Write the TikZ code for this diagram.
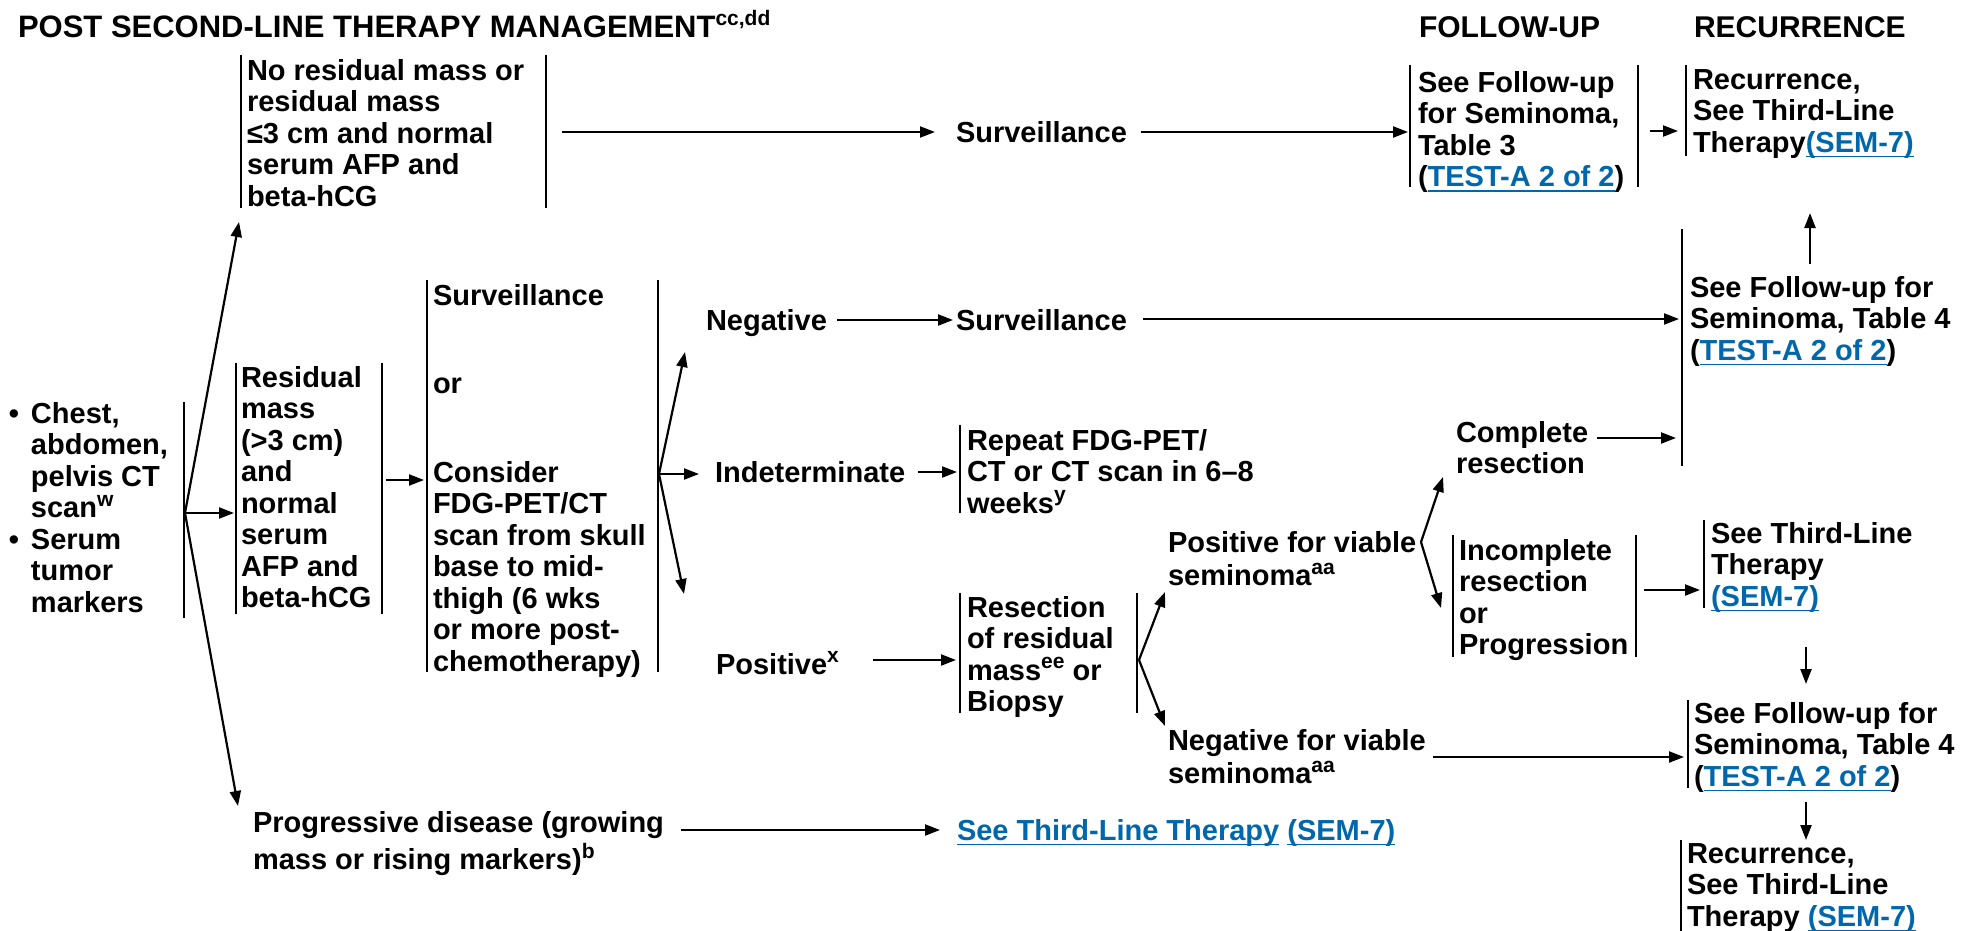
\documentclass[tikz,border=0pt]{standalone}
\usepackage{fontspec}
\setmainfont{Liberation Sans}
\usetikzlibrary{arrows.meta}
\definecolor{linkblue}{RGB}{0,103,172}
\newcommand\bodyfont{\fontsize{29}{31.5}\selectfont\bfseries}
\newcommand\headfont{\fontsize{30}{32}\selectfont\bfseries}
\newcommand\titlefont{\fontsize{31}{33}\selectfont\bfseries}
\newcommand\spx[1]{\raisebox{0.4em}{\fontsize{21}{21}\selectfont #1}}
\newcommand\lnk[1]{\textcolor{linkblue}{\setbox0\hbox{#1}\rlap{\rule[-5pt]{\wd0}{1.8pt}}\box0}}
\begin{document}
\begin{tikzpicture}[x=1pt,y=-1pt,
  tx/.style={inner sep=0pt,outer sep=0pt,align=left,anchor=north west,font=\bodyfont},
  hd/.style={inner sep=0pt,outer sep=0pt,anchor=base west,font=\headfont},
  bar/.style={line width=2.4pt},
  arr/.style={line width=2.2pt,-{Triangle[length=15pt,width=11pt]}}]
\useasboundingbox (0,0) rectangle (1961,931);

% headers
\node[hd,font=\titlefont] (title) at (18,38) {POST SECOND-LINE THERAPY MANAGEMENT\spx{cc,dd}};
\node[hd] (hfu) at (1419,38) {FOLLOW-UP};
\node[hd] (hrec) at (1694,38) {RECURRENCE};

% text blocks
\node[tx] (chest) at (9,401.4) {\strut\makebox[22pt][l]{•}Chest,\\\hspace*{22pt}abdomen,\\\hspace*{22pt}pelvis CT\\\hspace*{22pt}scan\spx{w}\\\makebox[22pt][l]{•}Serum\\\hspace*{22pt}tumor\\\hspace*{22pt}markers};
\node[tx] (nores) at (247,58.4) {\strut No residual mass or\\residual mass\\≤3 cm and normal\\serum AFP and\\beta-hCG};
\node[tx] (res) at (241,365.4) {\strut Residual\\mass\\(>3 cm)\\and\\normal\\serum\\AFP and\\beta-hCG};
\node[tx] (prog) at (253,810.4) {\strut Progressive disease (growing\\mass or rising markers)\spx{b}};
\node[tx] (survA) at (433,283.4) {\strut Surveillance};
\node[tx] (orA) at (433,371.4) {\strut or};
\node[tx] (consider) at (433,460.4) {\strut Consider\\FDG-PET/CT\\scan from skull\\base to mid-\\thigh (6 wks\\or more post-\\chemotherapy)};
\node[tx] (surv1) at (956,120.4) {\strut Surveillance};
\node[tx] (neg) at (706,308.4) {\strut Negative};
\node[tx] (surv2) at (956,308.4) {\strut Surveillance};
\node[tx] (indet) at (715,460.4) {\strut Indeterminate};
\node[tx] (repeat) at (967,428.4) {\strut Repeat FDG-PET/\\CT or CT scan in 6–8\\weeks\spx{y}};
\node[tx] (posx) at (716,651.4) {\strut Positive\spx{x}};
\node[tx] (resect) at (967,595.4) {\strut Resection\\of residual\\mass\spx{ee} or\\Biopsy};
\node[tx] (posv) at (1168,530.4) {\strut Positive for viable\\seminoma\spx{aa}};
\node[tx] (negv) at (1168,728.4) {\strut Negative for viable\\seminoma\spx{aa}};
\node[tx] (compl) at (1456,420.4) {\strut Complete\\resection};
\node[tx] (incompl) at (1459,538.4) {\strut Incomplete\\resection\\or\\Progression};
\node[tx] (seelink) at (957,818.4) {\strut\lnk{See Third-Line Therapy} \lnk{(SEM-7)}};
\node[tx] (fut3) at (1418,70.4) {\strut See Follow-up\\for Seminoma,\\Table 3\\(\lnk{TEST-A 2 of 2})};
\node[tx] (rec1) at (1693,67.4) {\strut Recurrence,\\See Third-Line\\Therapy\lnk{(SEM-7)}};
\node[tx] (t4a) at (1690,275.4) {\strut See Follow-up for\\Seminoma, Table 4\\(\lnk{TEST-A 2 of 2})};
\node[tx] (sem7a) at (1711,521.4) {\strut See Third-Line\\Therapy\\\lnk{(SEM-7)}};
\node[tx] (t4b) at (1694,701.4) {\strut See Follow-up for\\Seminoma, Table 4\\(\lnk{TEST-A 2 of 2})};
\node[tx] (rec2) at (1687,841.4) {\strut Recurrence,\\See Third-Line\\Therapy \lnk{(SEM-7)}};

% bars
\draw[bar] (184,402) -- (184,618);
\draw[bar] (241,55) -- (241,208);  \draw[bar] (546,55) -- (546,208);
\draw[bar] (236,363) -- (236,614); \draw[bar] (382,363) -- (382,614);
\draw[bar] (427,280) -- (427,672); \draw[bar] (658,280) -- (658,672);
\draw[bar] (960,425) -- (960,513);
\draw[bar] (960,593) -- (960,713); \draw[bar] (1137,593) -- (1137,713);
\draw[bar] (1410,65) -- (1410,187); \draw[bar] (1638,65) -- (1638,187);
\draw[bar] (1686,65) -- (1686,156);
\draw[bar] (1682,229) -- (1682,466);
\draw[bar] (1453,535) -- (1453,657); \draw[bar] (1636,535) -- (1636,657);
\draw[bar] (1704,520) -- (1704,608);
\draw[bar] (1688,700) -- (1688,788);
\draw[bar] (1681,840) -- (1681,931);

% coordinates
\coordinate (f1) at (185,513);
\coordinate (f1a) at (239,222);
\coordinate (f1b) at (234,513);
\coordinate (f1c) at (238,806);
\coordinate (f2) at (659,474);
\coordinate (f2a) at (685,352);
\coordinate (f2b) at (699,474);
\coordinate (f2c) at (684,594);
\coordinate (f3) at (1139,660);
\coordinate (f3a) at (1165,592);
\coordinate (f3b) at (1165,726);
\coordinate (f4) at (1421,542);
\coordinate (f4a) at (1443,477);
\coordinate (f4b) at (1441,608);
\coordinate (n1s) at (562,132);  \coordinate (n1e) at (935,132);
\coordinate (s1s) at (1141,132); \coordinate (s1e) at (1408,132);
\coordinate (u1s) at (1650,131); \coordinate (u1e) at (1678,131);
\coordinate (v1s) at (1810,264); \coordinate (v1e) at (1810,213);
\coordinate (ng1s) at (837,320); \coordinate (ng1e) at (953,320);
\coordinate (sv2s) at (1143,319); \coordinate (sv2e) at (1679,319);
\coordinate (r1s) at (386,480);  \coordinate (r1e) at (424,480);
\coordinate (in1s) at (918,472); \coordinate (in1e) at (957,472);
\coordinate (px1s) at (873,660); \coordinate (px1e) at (956,660);
\coordinate (cp1s) at (1597,438); \coordinate (cp1e) at (1676,438);
\coordinate (ic1s) at (1644,590); \coordinate (ic1e) at (1700,590);
\coordinate (d1s) at (1806,647); \coordinate (d1e) at (1806,684);
\coordinate (nv1s) at (1433,757); \coordinate (nv1e) at (1684,757);
\coordinate (d2s) at (1806,802); \coordinate (d2e) at (1806,840);
\coordinate (pg1s) at (681,830); \coordinate (pg1e) at (940,830);

% arrows
\draw[arr] (f1) -- (f1a);
\draw[arr] (f1) -- (f1b);
\draw[arr] (f1) -- (f1c);
\draw[arr] (f2) -- (f2a);
\draw[arr] (f2) -- (f2b);
\draw[arr] (f2) -- (f2c);
\draw[arr] (f3) -- (f3a);
\draw[arr] (f3) -- (f3b);
\draw[arr] (f4) -- (f4a);
\draw[arr] (f4) -- (f4b);
\draw[arr] (n1s) -- (n1e);
\draw[arr] (s1s) -- (s1e);
\draw[arr] (u1s) -- (u1e);
\draw[arr] (v1s) -- (v1e);
\draw[arr] (ng1s) -- (ng1e);
\draw[arr] (sv2s) -- (sv2e);
\draw[arr] (r1s) -- (r1e);
\draw[arr] (in1s) -- (in1e);
\draw[arr] (px1s) -- (px1e);
\draw[arr] (cp1s) -- (cp1e);
\draw[arr] (ic1s) -- (ic1e);
\draw[arr] (d1s) -- (d1e);
\draw[arr] (nv1s) -- (nv1e);
\draw[arr] (d2s) -- (d2e);
\draw[arr] (pg1s) -- (pg1e);
\end{tikzpicture}
\end{document}
